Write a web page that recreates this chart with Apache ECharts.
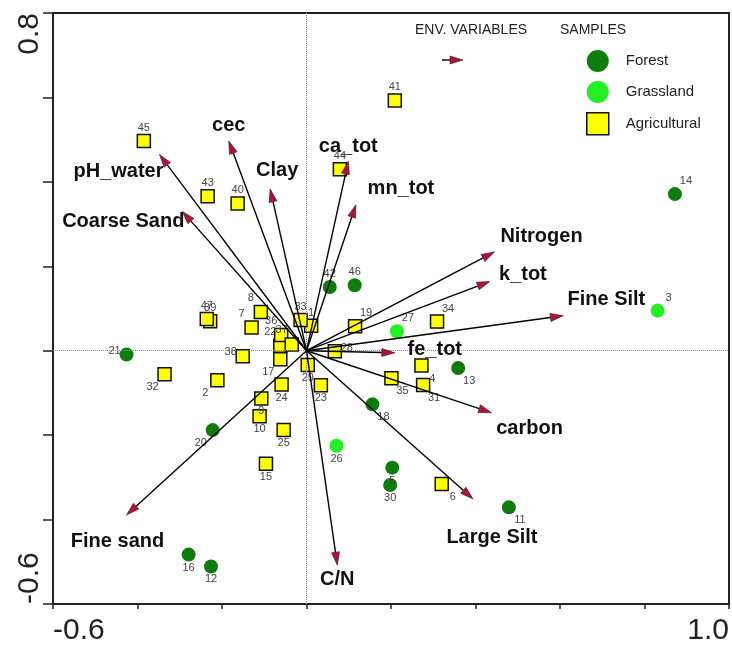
<!DOCTYPE html>
<html>
<head>
<meta charset="utf-8">
<script src="https://cdn.jsdelivr.net/npm/echarts@6/dist/echarts.min.js"></script>
<style>
  html, body { margin: 0; padding: 0; background: #fff; }
  #main { width: 732px; height: 646px; }
</style>
</head>
<body>
<div id="main"></div>
<script>
// 样本（样点）坐标
var sampleIds = [1, 2, 3, 4, 5, 6, 7, 8, 9, 10, 11, 12, 13, 14, 15, 16, 17, 18, 19, 20, 21, 22, 23, 24,
  25, 26, 27, 28, 29, 30, 31, 32, 33, 34, 35, 36, 37, 38, 39, 40, 41, 42, 43, 44, 45, 46, 47];
var sampleX = [0.011, -0.211, 0.831, 0.272, 0.203, 0.320, -0.130, -0.108, -0.107, -0.111, 0.479, -0.226,
  0.359, 0.872, -0.096, -0.279, -0.062, 0.156, 0.115, -0.222, -0.426, -0.062, 0.034, -0.059,
  -0.054, 0.071, 0.214, 0.067, 0.003, 0.198, 0.276, -0.336, -0.014, 0.309, 0.201, -0.060,
  -0.035, -0.151, -0.228, -0.163, 0.209, 0.055, -0.234, 0.079, -0.385, 0.114, -0.236];
var sampleY = [0.059, -0.070, 0.095, -0.035, -0.277, -0.316, 0.055, 0.092, -0.113, -0.155, -0.371, -0.511,
  -0.041, 0.371, -0.268, -0.483, -0.020, -0.127, 0.058, -0.188, -0.009, 0.012, -0.082, -0.080,
  -0.188, -0.225, 0.046, -0.001, -0.034, -0.318, -0.081, -0.056, 0.073, 0.069, -0.065, 0.037,
  0.015, -0.013, 0.070, 0.349, 0.593, 0.151, 0.366, 0.430, 0.497, 0.155, 0.075];
var sampleType = ["A", "A", "G", "A", "F", "A", "A", "A", "A", "A", "F", "F",
  "F", "F", "A", "F", "A", "F", "A", "F", "F", "A", "A", "A",
  "A", "G", "G", "A", "A", "F", "A", "A", "A", "A", "A", "A",
  "A", "A", "A", "A", "A", "F", "A", "A", "A", "F", "A"];

// 环境变量箭头
var envNames = ["pH_water", "cec", "Clay", "Coarse Sand", "ca_tot", "mn_tot", "Nitrogen",
  "k_tot", "Fine Silt", "fe_tot", "carbon", "Large Silt", "C/N", "Fine sand"];
var envX = [-0.348, -0.184, -0.086, -0.294, 0.099, 0.117, 0.445, 0.434, 0.608, 0.209, 0.438, 0.394, 0.073, -0.426];
var envY = [0.465, 0.497, 0.383, 0.330, 0.449, 0.346, 0.234, 0.164, 0.083, -0.005, -0.147, -0.351, -0.508, -0.389];

var axisLabels = ["-0.6", "1.0", "0.8"];

// 标签位置（像素偏移）
var sideOffset = {
  top: [0, -13], bottom: [0, 13], left: [-12, -4], right: [12, -3],
  tr: [11, -13], tl: [-10, -14], br: [11, 13], bl: [-12, 13]
};
var labelSide = {
  1: "top", 2: "bl", 3: "tr", 4: "br", 5: "bottom", 6: "br", 7: "tl", 8: "tl", 9: "bottom", 10: "bottom",
  11: "br", 12: "bottom", 13: "br", 14: "tr", 15: "bottom", 16: "bottom", 17: "bl", 18: "br", 19: "tr",
  20: "bl", 21: "left", 22: "tl", 23: "bottom", 24: "bottom", 25: "bottom", 26: "bottom", 27: "tr",
  28: "right", 29: "bottom", 30: "bottom", 31: "br", 32: "bl", 33: "top", 34: "tr", 35: "br", 36: "tl",
  37: "tl", 38: "left", 39: "top", 40: "top", 41: "top", 42: "top", 43: "top", 44: "top", 45: "top",
  46: "top", 47: "top"
};
var envLabelOffset = {
  "pH_water": [-41, 17], "cec": [0, -15], "Clay": [7, -19], "Coarse Sand": [-59, 10],
  "ca_tot": [0, -15], "mn_tot": [45, -16], "Nitrogen": [47, -15], "k_tot": [33, -7],
  "Fine Silt": [43, -16], "fe_tot": [40, -3], "carbon": [38, 16], "Large Silt": [19, 39],
  "C/N": [0, 14], "Fine sand": [-9, 27]
};

var FONT = "Liberation Sans, Arial, sans-serif";

function groupData(code) {
  var out = [];
  for (var i = 0; i < sampleIds.length; i++) {
    if (sampleType[i] !== code) continue;
    var off = sideOffset[labelSide[sampleIds[i]]];
    out.push({
      name: String(sampleIds[i]),
      value: [sampleX[i], sampleY[i]],
      label: { offset: off }
    });
  }
  return out;
}

var envData = [];
for (var k = 0; k < envNames.length; k++) {
  envData.push({ name: envNames[k], value: [envX[k], envY[k]] });
}

var pointLabel = {
  show: true,
  position: "inside",
  formatter: "{b}",
  fontSize: 11,
  color: "#444",
  fontFamily: FONT
};

function renderArrow(params, api) {
  var o = api.coord([0, 0]);
  var t = api.coord([api.value(0), api.value(1)]);
  var dx = t[0] - o[0], dy = t[1] - o[1];
  var len = Math.sqrt(dx * dx + dy * dy);
  var ux = dx / len, uy = dy / len;
  var hl = 13, hw = 4;
  var bx = t[0] - ux * hl, by = t[1] - uy * hl;
  var name = envNames[params.dataIndex];
  var off = envLabelOffset[name];
  return {
    type: "group",
    children: [
      { type: "line", shape: { x1: o[0], y1: o[1], x2: bx, y2: by },
        style: { stroke: "#000", lineWidth: 1.4 } },
      { type: "polygon",
        shape: { points: [[t[0], t[1]], [bx - uy * hw, by + ux * hw], [bx + uy * hw, by - ux * hw]] },
        style: { fill: "#a8173a", stroke: "#400a14", lineWidth: 0.6 } },
      { type: "text", x: t[0] + off[0], y: t[1] + off[1],
        style: { text: name, fontSize: 20, fontWeight: "bold", fontFamily: FONT,
          fill: "#111", align: "center", verticalAlign: "middle" } }
    ]
  };
}

var myChart = echarts.init(document.getElementById("main"));
myChart.setOption({
  animation: false,
  backgroundColor: "#fff",
  grid: { left: 53, right: 1, top: 13, bottom: 39, show: true, borderColor: "#222", borderWidth: 2 },
  xAxis: {
    type: "value", min: -0.6, max: 1.0, interval: 0.2,
    axisLine: { show: true, onZero: false, lineStyle: { color: "#222", width: 2 } },
    axisTick: { show: true, length: 5, lineStyle: { color: "#222", width: 1.5 } },
    splitLine: { show: false },
    axisLabel: {
      fontSize: 30, color: "#222", fontFamily: FONT, margin: 12,
      alignMinLabel: "left", alignMaxLabel: "right",
      formatter: function (v) {
        if (Math.abs(v + 0.6) < 1e-6) return axisLabels[0];
        if (Math.abs(v - 1.0) < 1e-6) return axisLabels[1];
        return "";
      }
    }
  },
  yAxis: {
    type: "value", min: -0.6, max: 0.8, interval: 0.2,
    axisLine: { show: true, onZero: false, lineStyle: { color: "#222", width: 2 } },
    axisTick: { show: true, length: 10, lineStyle: { color: "#222", width: 1.5 } },
    splitLine: { show: false },
    axisLabel: {
      rotate: 90, fontSize: 30, color: "#222", fontFamily: FONT, margin: 8,
      alignMinLabel: "left", alignMaxLabel: "right",
      formatter: function (v) {
        if (Math.abs(v + 0.6) < 1e-6) return axisLabels[0];
        if (Math.abs(v - 0.8) < 1e-6) return axisLabels[2];
        return "";
      }
    }
  },
  legend: {
    orient: "vertical",
    left: 586, top: 50,
    itemWidth: 46, itemHeight: 22, itemGap: 9,
    padding: 0,
    symbolKeepAspect: true,
    data: [
      { name: "Forest" },
      { name: "Grassland" },
      { name: "Agricultural", icon: "path://M0 0H20V20H0Z",
        itemStyle: { color: "#ffff00", borderColor: "#111", borderWidth: 1.5 } }
    ],
    textStyle: { fontSize: 15, color: "#222", fontFamily: FONT }
  },
  graphic: [
    { type: "text", left: 415, top: 23,
      style: { text: "ENV. VARIABLES", fontSize: 14, fill: "#222", fontFamily: FONT } },
    { type: "text", left: 560, top: 23,
      style: { text: "SAMPLES", fontSize: 14, fill: "#222", fontFamily: FONT } },
    { type: "line", shape: { x1: 442, y1: 60, x2: 450, y2: 60 },
      style: { stroke: "#000", lineWidth: 1.4 } },
    { type: "polygon", shape: { points: [[463, 60], [450, 56], [450, 64]] },
      style: { fill: "#a8173a", stroke: "#400a14", lineWidth: 0.6 } }
  ],
  series: [
    {
      name: "Forest", type: "scatter", symbol: "circle", symbolSize: 14,
      itemStyle: { color: "#0e7d0e", opacity: 1 },
      label: pointLabel,
      data: groupData("F"),
      markLine: {
        silent: true, symbol: "none", animation: false,
        label: { show: false },
        lineStyle: { type: "dotted", color: "#888", width: 1 },
        data: [{ xAxis: 0 }, { yAxis: 0 }]
      }
    },
    {
      name: "Grassland", type: "scatter", symbol: "circle", symbolSize: 14,
      itemStyle: { color: "#22f022", opacity: 1 },
      label: pointLabel,
      data: groupData("G")
    },
    {
      name: "Agricultural", type: "scatter", symbol: "rect", symbolSize: 13,
      itemStyle: { color: "#ffff00", borderColor: "#111", borderWidth: 1.5, opacity: 1 },
      label: pointLabel,
      data: groupData("A")
    },
    {
      name: "env", type: "custom", renderItem: renderArrow,
      encode: { x: 0, y: 1 }, z: 5,
      data: envData
    }
  ]
});
</script>
</body>
</html>
